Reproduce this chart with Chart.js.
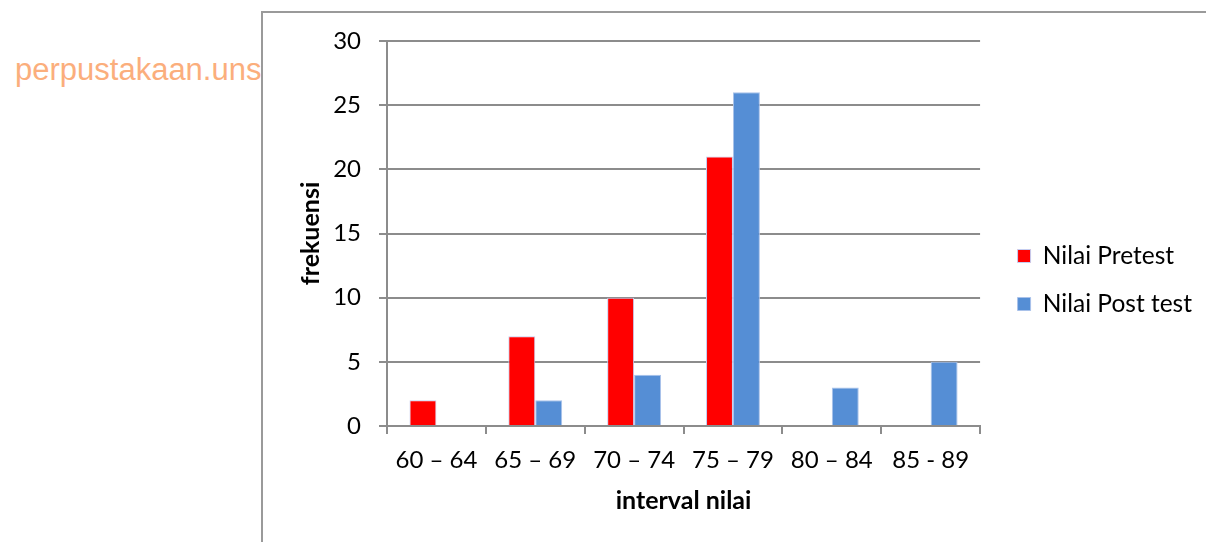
<!DOCTYPE html>
<html>
<head>
<meta charset="utf-8">
<script src="https://cdn.jsdelivr.net/npm/chart.js@4.4.1/dist/chart.umd.min.js"></script>
<style>
  html, body { margin: 0; padding: 0; background: #fff; width: 1206px; height: 542px; overflow: hidden; }
  #wm { position: absolute; left: 15px; top: 52px; font-family: "Liberation Sans", Arial, sans-serif; font-size: 31px; color: #fbae7c; white-space: nowrap; z-index: 1; }
  #frame { position: absolute; left: 261px; top: 11px; width: 945px; height: 531px; border-left: 2px solid #9a9a9a; border-top: 2px solid #9a9a9a; background: #fff; z-index: 2; box-sizing: border-box; }
  #cv { position: absolute; left: 0; top: 0; }
</style>
</head>
<body>
<div id="wm">perpustakaan.uns.ac.id</div>
<div id="frame"><canvas id="cv" width="943" height="529"></canvas></div>
<script>
const categories = ["60 \u2013 64", "65 \u2013 69", "70 \u2013 74", "75 \u2013 79", "80 \u2013 84", "85 - 89"];
const pretest = [2, 7, 10, 21, 0, 0];
const posttest = [0, 2, 4, 26, 3, 5];
const yTicks = [0, 5, 10, 15, 20, 25, 30];
const seriesNames = ["Nilai Pretest", "Nilai Post test"];

const FONT = "Lato, 'Open Sans', sans-serif";
const GRID = "#8c8c8c";

new Chart(document.getElementById('cv'), {
  type: 'bar',
  data: {
    labels: categories,
    datasets: [
      { label: seriesNames[0], data: pretest, backgroundColor: '#ff0000', borderColor: '#c5cdf0', borderWidth: 1, categoryPercentage: 0.545, barPercentage: 1.0 },
      { label: seriesNames[1], data: posttest, backgroundColor: '#558ed5', borderColor: '#a9c2ea', borderWidth: 1, categoryPercentage: 0.545, barPercentage: 1.0 }
    ]
  },
  options: {
    responsive: false,
    animation: false,
    layout: { padding: { top: 28, right: 4, left: 0, bottom: 23 } },
    plugins: {
      tooltip: { enabled: false },
      legend: {
        position: 'right',
        maxWidth: 320,
        labels: { color: '#000', font: { family: FONT, size: 24.5 }, boxWidth: 13, boxHeight: 13, padding: 23.5 }
      }
    },
    scales: {
      x: {
        grid: { display: true, drawOnChartArea: false, drawTicks: true, tickLength: 8, color: GRID, lineWidth: 2, offset: true },
        border: { display: true, color: GRID, width: 2 },
        ticks: { color: '#000', font: { family: FONT, size: 24 }, padding: 12, maxRotation: 0 },
        title: { display: true, text: 'interval nilai', color: '#000', font: { family: FONT, size: 25, weight: 'bold' }, padding: { top: 0, bottom: 3 } },
        afterFit: s => { s.height = 93; s.paddingLeft = 0; s.paddingRight = 0; }
      },
      y: {
        min: 0, max: 30,
        afterBuildTicks: s => { s.ticks = yTicks.map(v => ({ value: v })); },
        grid: { color: GRID, lineWidth: 2, drawTicks: true, tickLength: 8 },
        border: { display: true, color: GRID, width: 2 },
        ticks: { color: '#000', font: { family: FONT, size: 24 }, padding: 18 },
        title: { display: true, text: 'frekuensi', color: '#000', font: { family: FONT, size: 25, weight: 'bold' }, padding: { top: 33, bottom: 0 } },
        afterFit: s => { s.width = 124; s.paddingTop = 0; s.paddingBottom = 0; }
      },
      gap: {
        type: 'linear',
        position: 'right',
        display: true,
        grid: { display: false },
        border: { display: false },
        ticks: { display: false },
        afterFit: s => { s.width = 14; s.paddingTop = 0; s.paddingBottom = 0; }
      }
    }
  }
});
</script>
</body>
</html>
